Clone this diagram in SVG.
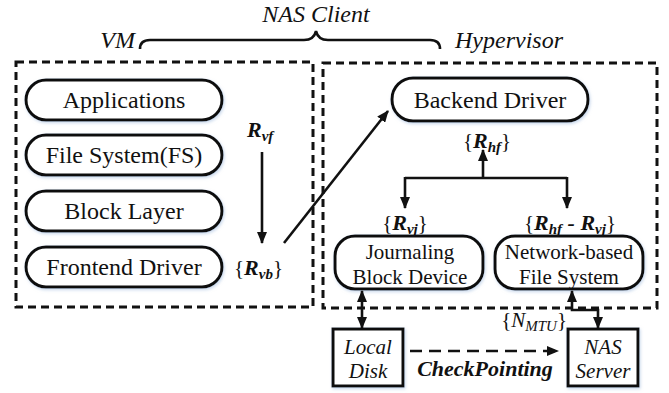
<svg xmlns="http://www.w3.org/2000/svg" width="669" height="393" viewBox="0 0 669 393" font-family="'Liberation Serif', 'Times New Roman', serif">
<style>
text, tspan{font-family:'Liberation Serif','Times New Roman',serif;fill:#111;}
.t{font-size:24px;text-anchor:middle;}
.s{font-size:21px;text-anchor:middle;}
.it{font-style:italic;}
.lab{font-size:22px;font-weight:bold;font-style:italic;}
.sub{font-size:15px;}
.box{fill:#fff;stroke:#111;stroke-width:3;filter:url(#sh);}
.dash{fill:none;stroke:#111;stroke-width:3;stroke-dasharray:8 5;}
.ln{fill:none;stroke:#111;stroke-width:2.6;}
</style>
<defs>
<filter id="sh" x="-10%" y="-20%" width="120%" height="140%">
<feDropShadow dx="1" dy="1.5" stdDeviation="1.5" flood-color="#9db8dc" flood-opacity="0.55"/>
</filter>
<marker id="ah" viewBox="0 0 12 10" refX="11" refY="5" markerWidth="12" markerHeight="10" markerUnits="userSpaceOnUse" orient="auto-start-reverse">
<path d="M0,0 L12,5 L0,10 z" fill="#111"/>
</marker>
</defs>

<g id="header">
<text class="it" x="316" y="22" font-size="24" text-anchor="middle">NAS Client</text>
<text class="it" x="135" y="48" font-size="24" text-anchor="end">VM</text>
<text class="it" x="455" y="48" font-size="24">Hypervisor</text>
<path class="ln" stroke-width="3" d="M140,49 Q140,40 150,40 L304,40 Q314,40 316,31 Q318,40 328,40 L430,40 Q440,40 440,49"/>
</g>

<g id="vm">
<rect class="dash" x="16" y="62" width="297" height="245"/>
</g>
<g id="hypervisor">
<rect class="dash" x="323" y="63" width="334" height="245"/>
</g>

<g id="applications">
<rect class="box" x="26" y="80" width="196" height="40" rx="20"/>
<text class="t" x="124" y="108">Applications</text>
</g>
<g id="filesystem">
<rect class="box" x="26" y="135" width="196" height="40" rx="20"/>
<text class="t" x="124" y="163">File System(FS)</text>
</g>
<g id="blocklayer">
<rect class="box" x="26" y="191" width="196" height="40" rx="20"/>
<text class="t" x="124" y="219">Block Layer</text>
</g>
<g id="frontend">
<rect class="box" x="26" y="247" width="196" height="40" rx="20"/>
<text class="t" x="124" y="275">Frontend Driver</text>
</g>

<g id="backend">
<rect class="box" x="392" y="78" width="196" height="43" rx="21"/>
<text class="t" x="490" y="108">Backend Driver</text>
</g>
<g id="journaling">
<rect class="box" x="335" y="236" width="148" height="53" rx="20"/>
<text class="s" x="410" y="259">Journaling</text>
<text class="s" x="410" y="284">Block Device</text>
</g>
<g id="nfs">
<rect class="box" x="495" y="236" width="148" height="53" rx="20"/>
<text class="s" x="569" y="259">Network-based</text>
<text class="s" x="569" y="284">File System</text>
</g>
<g id="localdisk">
<rect class="box" x="333" y="329" width="70" height="57"/>
<text class="s it" x="368" y="354">Local</text>
<text class="s it" x="368" y="378">Disk</text>
</g>
<g id="nasserver">
<rect class="box" x="568" y="329" width="70" height="57"/>
<text class="s it" x="603" y="354">NAS</text>
<text class="s it" x="603" y="378">Server</text>
</g>

<g id="labels">
<text class="lab" x="247" y="137">R<tspan class="sub" dy="4">vf</tspan></text>
<text x="234" y="275" font-size="21">{<tspan class="lab">R</tspan><tspan class="lab sub" dy="4">vb</tspan><tspan dy="-4">}</tspan></text>
<text x="487" y="148" font-size="21" text-anchor="middle">{<tspan class="lab">R</tspan><tspan class="lab sub" dy="4">hf</tspan><tspan dy="-4">}</tspan></text>
<text x="405" y="230" font-size="21" text-anchor="middle">{<tspan class="lab">R</tspan><tspan class="lab sub" dy="4">vj</tspan><tspan dy="-4">}</tspan></text>
<text x="570" y="230" font-size="21" text-anchor="middle">{<tspan class="lab">R</tspan><tspan class="lab sub" dy="4">hf</tspan><tspan class="lab" dy="-4"> - R</tspan><tspan class="lab sub" dy="4">vj</tspan><tspan dy="-4">}</tspan></text>
<text x="567" y="327" font-size="21" text-anchor="end">{<tspan class="it">N</tspan><tspan class="it sub" dy="4">MTU</tspan><tspan dy="-4">}</tspan></text>
<text class="lab" x="485" y="376" font-size="21" text-anchor="middle">CheckPointing</text>
</g>

<g id="connectors">
<line class="ln" x1="262" y1="152" x2="262" y2="243" marker-end="url(#ah)"/>
<line class="ln" x1="284" y1="243" x2="388" y2="111" marker-end="url(#ah)"/>
<line class="ln" x1="483" y1="178" x2="483" y2="150" marker-end="url(#ah)"/>
<path class="ln" d="M405,178 L567,178"/>
<line class="ln" x1="405" y1="177" x2="405" y2="208" marker-end="url(#ah)"/>
<line class="ln" x1="567" y1="177" x2="567" y2="208" marker-end="url(#ah)"/>
<line class="ln" x1="362" y1="291" x2="362" y2="328" marker-start="url(#ah)" marker-end="url(#ah)"/>
<path class="ln" d="M572,291 L572,310 L598,310 L598,328" marker-start="url(#ah)" marker-end="url(#ah)"/>
<line class="ln" x1="410" y1="351" x2="558" y2="351" stroke-dasharray="12 7" marker-end="url(#ah)"/>
</g>
</svg>
